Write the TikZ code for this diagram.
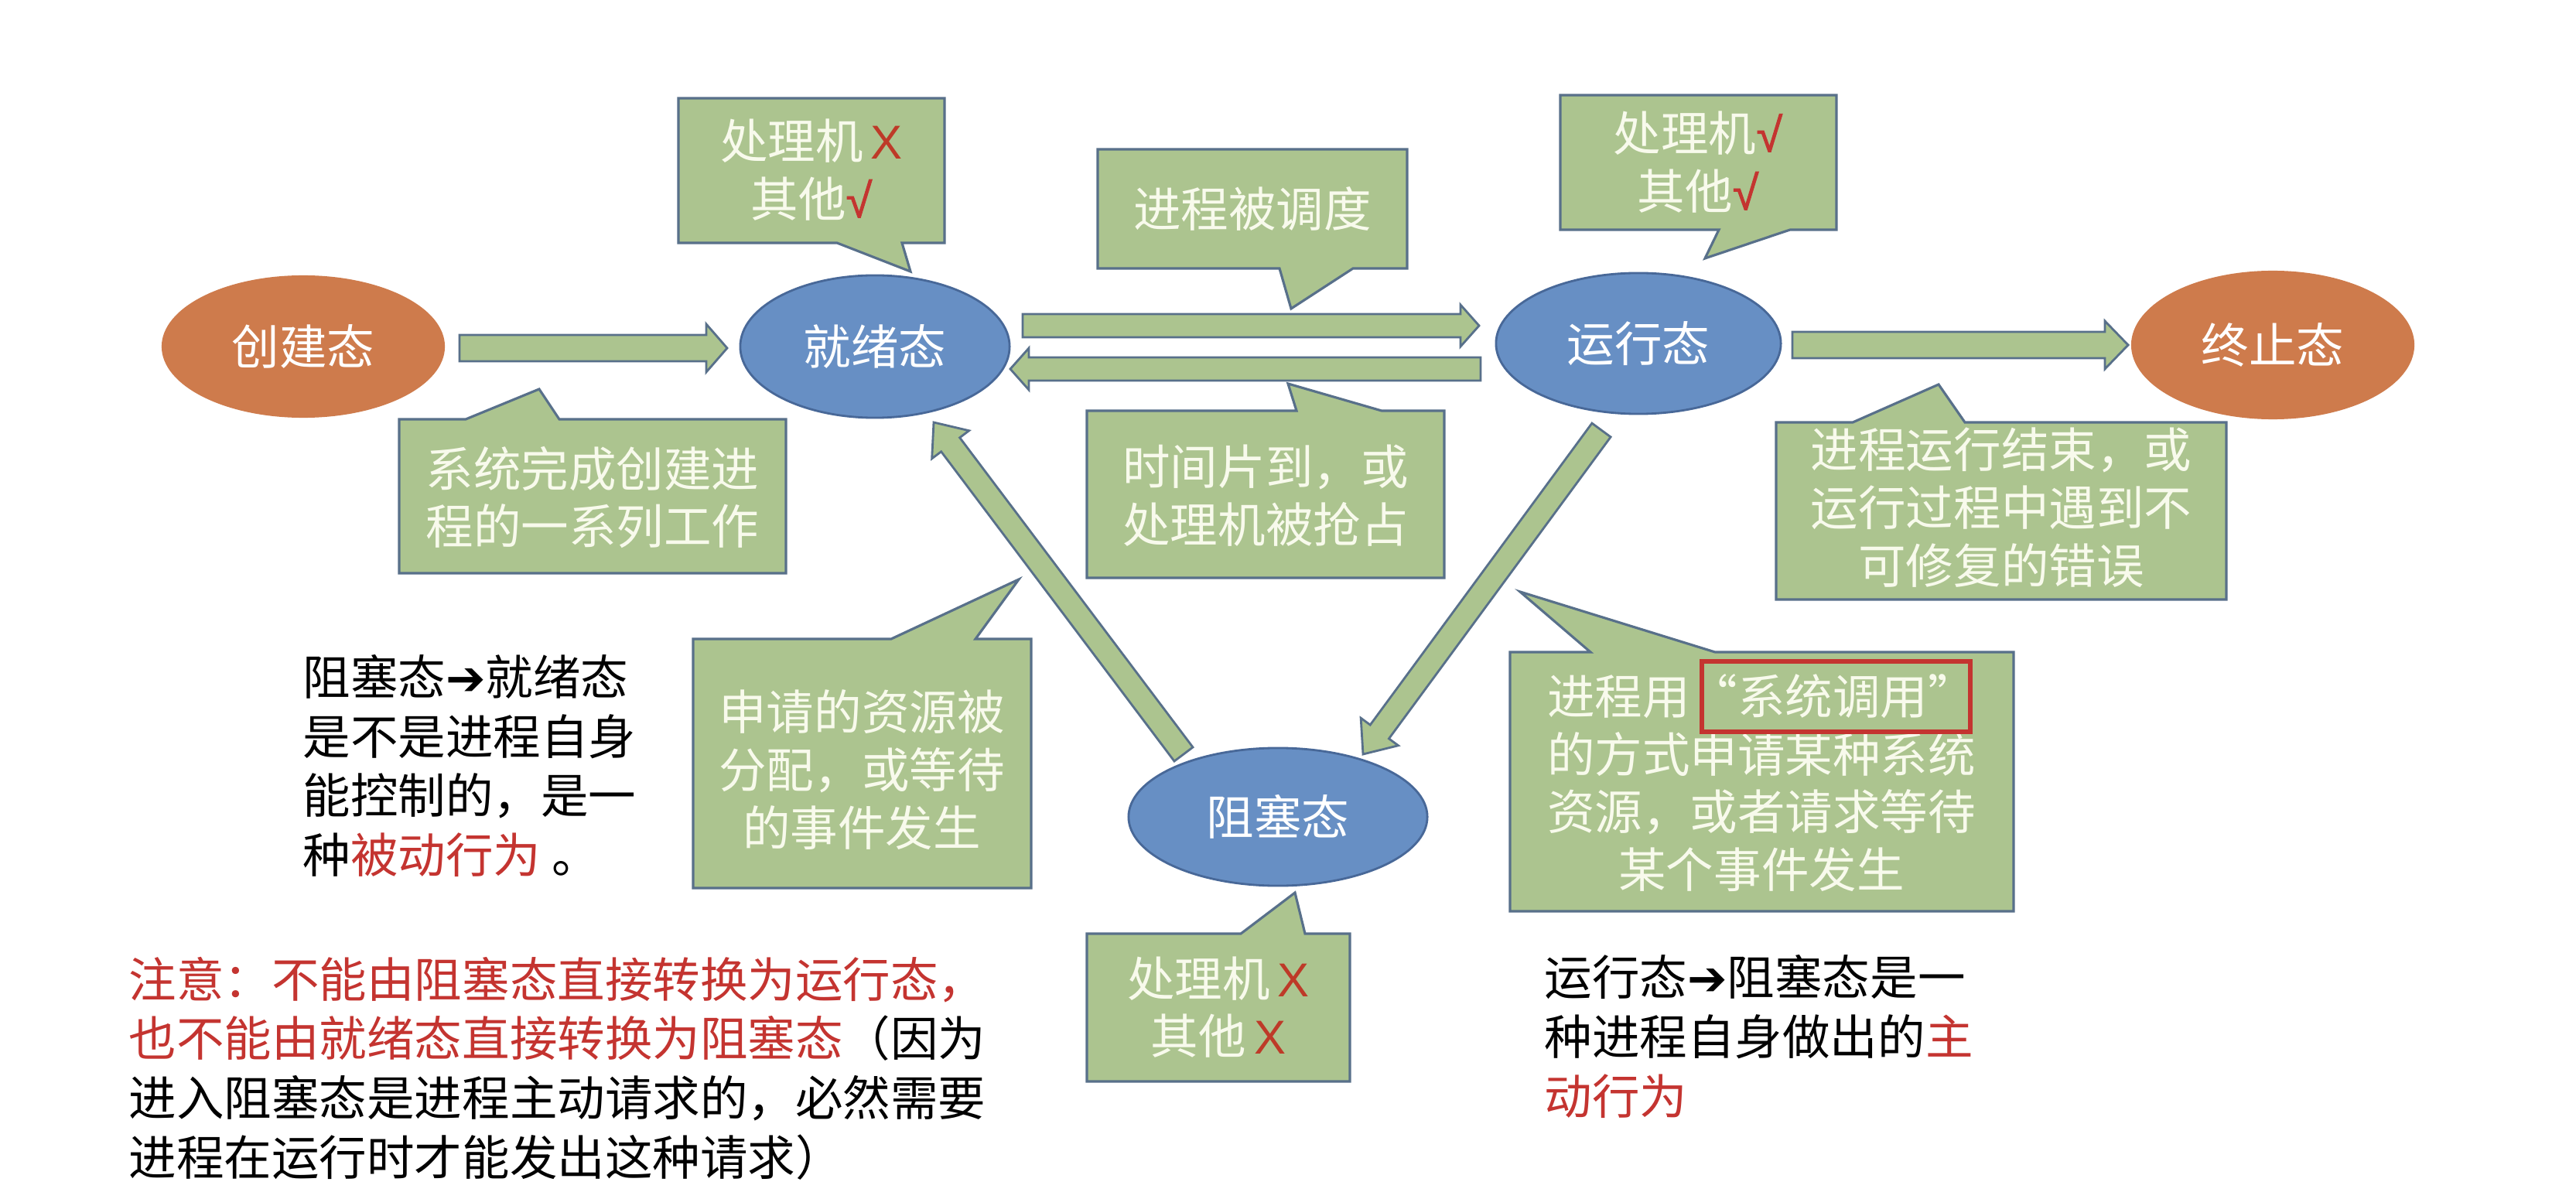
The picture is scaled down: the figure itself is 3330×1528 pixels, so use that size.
\documentclass[tikz,border=0pt]{standalone}
\usepackage{fontspec}
\setmainfont{Noto Sans CJK SC}
\newfontfamily\dejavu{DejaVu Sans}
\newfontfamily\latinf{Liberation Sans}
\newfontfamily\latinb[FakeBold=1.5]{Liberation Sans}
\usetikzlibrary{shapes.geometric,calc}

\definecolor{gfill}{RGB}{172,196,143}
\definecolor{gline}{RGB}{88,112,138}
\definecolor{gtext}{RGB}{248,250,236}
\definecolor{orng}{RGB}{206,123,76}
\definecolor{blu}{RGB}{103,143,196}
\definecolor{bluline}{RGB}{72,104,152}
\definecolor{redt}{RGB}{196,52,48}
\definecolor{redx}{RGB}{190,58,40}

\newcommand{\xmark}{{\color{redx}\latinf\,X}}
\newcommand{\vmark}{{\color{redt}\latinb √}}
\newcommand{\barrow}{{\dejavu ➔}}

% block arrow: #1 start, #2 tip, #3 shaft half width, #4 head half width, #5 head length
\newcommand{\blockarrow}[5]{%
  \coordinate (ba-h) at ($(#2)!#5!(#1)$);
  \draw[barrowstyle] ($(#1)!#3!90:(#2)$) -- ($(ba-h)!#3!90:(#2)$) -- ($(ba-h)!#4!90:(#2)$) -- (#2)
     -- ($(ba-h)!#4!-90:(#2)$) -- ($(ba-h)!#3!-90:(#2)$) -- ($(#1)!#3!-90:(#2)$) -- cycle;
}

\tikzset{
  state/.style={ellipse, inner sep=0pt, font=\fontsize{17.5}{21}\selectfont, text=white},
  orangestate/.style={state, fill=orng},
  bluestate/.style={state, fill=blu, draw=bluline, line width=0.8pt},
  callout/.style={fill=gfill, draw=gline, line width=0.9pt, line join=miter},
  calltext/.style={align=center, text=gtext, font=\fontsize{17.5}{21.3}\selectfont, inner sep=0pt},
  note/.style={align=left, anchor=west, inner sep=0pt, font=\fontsize{17.5}{21.8}\selectfont, text=black},
  barrowstyle/.style={fill=gfill, draw=gline, line width=0.8pt, line join=miter},
  sysbox/.style={draw=redt, line width=1.5pt},
}

\begin{document}
\begin{tikzpicture}[x=0.01cm, y=-0.01cm]
\useasboundingbox (0,0) rectangle (3330,1528);
\fill[white] (0,0) rectangle (3330,1528);

% states
\node[orangestate, minimum width=3.66cm, minimum height=1.84cm] (create) at (392,448) {创建态};
\node[bluestate, minimum width=3.48cm, minimum height=1.84cm] (ready) at (1131,448) {就绪态};
\node[bluestate, minimum width=3.68cm, minimum height=1.82cm] (run) at (2118,444) {运行态};
\node[orangestate, minimum width=3.66cm, minimum height=1.92cm] (term) at (2938,446) {终止态};
\node[bluestate, minimum width=3.86cm, minimum height=1.78cm] (block) at (1652,1056) {阻塞态};

% arrow end points
\coordinate (a1s) at (594,450);  \coordinate (a1e) at (940,450);
\coordinate (a2s) at (1322,421); \coordinate (a2e) at (1912,421);
\coordinate (a3s) at (1914,477); \coordinate (a3e) at (1306,477);
\coordinate (a4s) at (2317,446); \coordinate (a4e) at (2751,446);
\coordinate (a5s) at (1530,975); \coordinate (a5e) at (1207,546);
\coordinate (a6s) at (2070,556); \coordinate (a6e) at (1762,975);

\blockarrow{a1s}{a1e}{0.17cm}{0.31cm}{0.27cm}
\blockarrow{a2s}{a2e}{0.15cm}{0.27cm}{0.24cm}
\blockarrow{a3s}{a3e}{0.15cm}{0.27cm}{0.24cm}
\blockarrow{a4s}{a4e}{0.17cm}{0.31cm}{0.30cm}
\blockarrow{a5s}{a5e}{0.15cm}{0.30cm}{0.36cm}
\blockarrow{a6s}{a6e}{0.15cm}{0.30cm}{0.36cm}

% callouts
\draw[callout] (877,127) -- (1221,127) -- (1221,314) -- (1166,314) -- (1177,351) -- (1082,314) -- (877,314) -- cycle;
\node[calltext] (tA) at (1049,220) {处理机\xmark\\其他\vmark};

\draw[callout] (1419,193) -- (1819,193) -- (1819,347) -- (1749,347) -- (1669,399) -- (1654,347) -- (1419,347) -- cycle;
\node[calltext] (tB) at (1619,270) {进程被调度};

\draw[callout] (2017,123) -- (2374,123) -- (2374,297) -- (2314,297) -- (2204,334) -- (2222,297) -- (2017,297) -- cycle;
\node[calltext] (tC) at (2195,210) {处理机\vmark\\其他\vmark};

\draw[callout] (516,542) -- (602,542) -- (697,503) -- (723,542) -- (1016,542) -- (1016,741) -- (516,741) -- cycle;
\node[calltext] (tD) at (766,643) {系统完成创建进\\程的一系列工作};

\draw[callout] (1405,531) -- (1676,531) -- (1665,496) -- (1786,531) -- (1867,531) -- (1867,747) -- (1405,747) -- cycle;
\node[calltext] (tE) at (1636,641) {时间片到，或\\处理机被抢占};

\draw[callout] (2296,546) -- (2395,546) -- (2506,497) -- (2540,546) -- (2878,546) -- (2878,775) -- (2296,775) -- cycle;
\node[calltext] (tF) at (2587,656) {进程运行结束，或\\运行过程中遇到不\\可修复的错误};

\draw[callout] (896,826) -- (1152,826) -- (1317,749) -- (1261,826) -- (1333,826) -- (1333,1148) -- (896,1148) -- cycle;
\node[calltext] (tG) at (1114,995) {申请的资源被\\分配，或等待\\的事件发生};

\draw[callout] (1952,843) -- (2056,843) -- (1965,765) -- (2217,843) -- (2603,843) -- (2603,1178) -- (1952,1178) -- cycle;
\node[calltext] (tH) at (2277,1012) {进程用“系统调用”\\的方式申请某种系统\\资源，或者请求等待\\某个事件发生};
\draw[sysbox] (2200,855) rectangle (2547,946);

\draw[callout] (1405,1207) -- (1604,1207) -- (1674,1154) -- (1687,1207) -- (1745,1207) -- (1745,1398) -- (1405,1398) -- cycle;
\node[calltext] (tI) at (1575,1302) {处理机\xmark\\其他\xmark};

% notes
\node[note] (n1) at (391,990) {阻塞态\barrow 就绪态\\是不是进程自身\\能控制的，是一\\种{\color{redt}被动行为} 。};
\node[note] (n2) at (166,1381) {{\color{redt}注意：不能由阻塞态直接转换为运行态，}\\{\color{redt}也不能由就绪态直接转换为阻塞态}（因为\\进入阻塞态是进程主动请求的，必然需要\\进程在运行时才能发出这种请求）};
\node[note] (n3) at (1996,1340) {运行态\barrow 阻塞态是一\\种进程自身做出的{\color{redt}主}\\{\color{redt}动行为}};
\end{tikzpicture}
\end{document}
